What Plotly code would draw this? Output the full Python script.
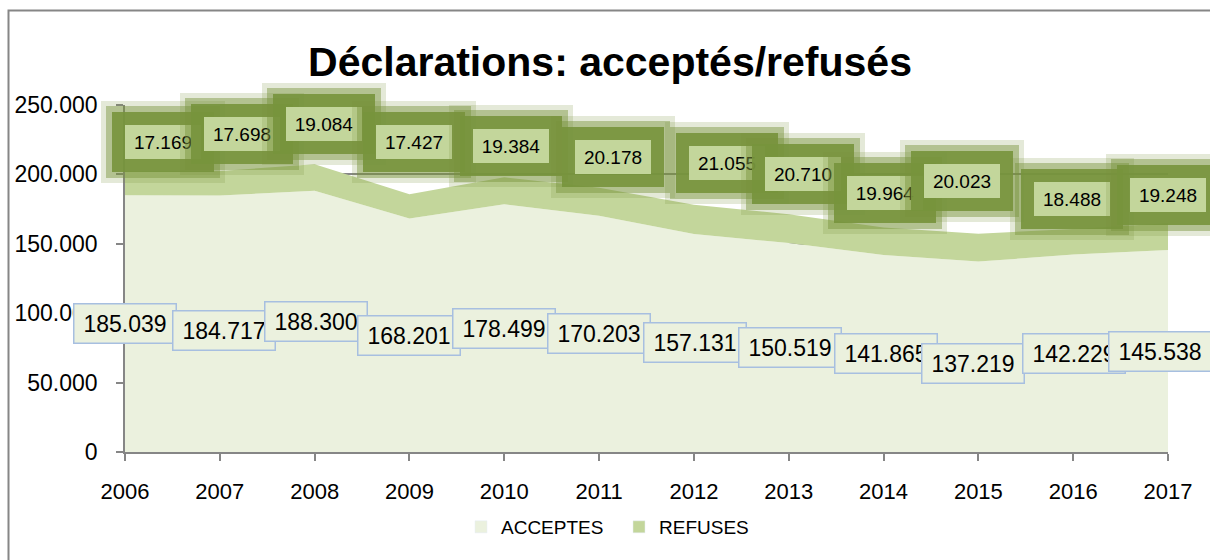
import plotly.graph_objects as go

# ---------------- data ----------------
years = [2006, 2007, 2008, 2009, 2010, 2011, 2012, 2013, 2014, 2015, 2016, 2017]
acceptes = [185039, 184717, 188300, 168201, 178499, 170203, 157131, 150519, 141865, 137219, 142229, 145538]
refuses = [17169, 17698, 19084, 17427, 19384, 20178, 21055, 20710, 19964, 20023, 18488, 19248]
acc_labels = ["185.039", "184.717", "188.300", "168.201", "178.499", "170.203",
              "157.131", "150.519", "141.865", "137.219", "142.229", "145.538"]
ref_labels = ["17.169", "17.698", "19.084", "17.427", "19.384", "20.178",
              "21.055", "20.710", "19.964", "20.023", "18.488", "19.248"]
y_ticks = [0, 50000, 100000, 150000, 200000, 250000]
title_text = "Déclarations: acceptés/refusés"

# ---------------- style / layout offsets (pixels) ----------------
C_ACC = "#EBF1DE"
C_REF = "#C3D69B"
C_GLOW = "119,147,60"
C_AXIS = "#868686"
FONT = "Liberation Sans"
# label placement offsets as dragged in the original chart (pixels)
acc_dx = [0, 4, 1, 0, 0, 0, 1, 1, 2, -5, 1, -8]
acc_dy = [0, -7, 0, 0, 0, 0, 0, 0, 0, -7, 0, 0]
ref_dx = [38, 22, 9, 5, 7, 14, 33, 14, 1, -16, -1, 0]
ref_dy = [29, 37, 40, 52, 31, 31, 42, 40, 34, 53, 30, 28]
glow_layers = [(24, 0.2), (19, 0.45), (13, 0.9)]

fig = go.Figure()
fig.add_trace(go.Scatter(x=years, y=acceptes, stackgroup="s", mode="none",
                         fillcolor=C_ACC, name="ACCEPTES", showlegend=False,
                         hoverinfo="skip"))
fig.add_trace(go.Scatter(x=years, y=refuses, stackgroup="s", mode="none",
                         fillcolor=C_REF, name="REFUSES", showlegend=False,
                         hoverinfo="skip"))
# legend proxies
fig.add_trace(go.Bar(x=[None], y=[None], marker_color=C_ACC, name="ACCEPTES"))
fig.add_trace(go.Bar(x=[None], y=[None], marker_color=C_REF, name="REFUSES"))

ann = []
for i, yr in enumerate(years):
    ann.append(dict(x=yr, y=acceptes[i] / 2, xref="x", yref="y", text=acc_labels[i],
                    showarrow=False, xshift=acc_dx[i], yshift=acc_dy[i],
                    width=101, height=38, bgcolor=C_ACC, bordercolor="#A7BFE0",
                    borderwidth=1.5, borderpad=0,
                    font=dict(family=FONT, size=23, color="#000000")))
for i, yr in enumerate(years):
    top = acceptes[i] + refuses[i]
    common = dict(x=yr, y=top, xref="x", yref="y", text=ref_labels[i], showarrow=False,
                  xshift=ref_dx[i], yshift=ref_dy[i], borderpad=0, width=76, height=34)
    for bw, al in glow_layers:
        ann.append(dict(common, bgcolor="rgba(0,0,0,0)",
                        bordercolor=f"rgba({C_GLOW},{al})", borderwidth=bw,
                        font=dict(family=FONT, size=19, color="rgba(0,0,0,0)")))
    ann.append(dict(common, bgcolor=C_REF, borderwidth=0,
                    font=dict(family=FONT, size=19, color="#000000")))

fig.update_layout(
    width=1210, height=560,
    margin=dict(l=125, r=42, t=105, b=108),
    paper_bgcolor="white", plot_bgcolor="white",
    separators=",.",
    title=dict(text="<b>" + title_text + "</b>", x=610 / 1210, xanchor="center",
               xref="container", y=1 - 62 / 560, yanchor="middle", yref="container",
               font=dict(family=FONT, size=41, color="#000000")),
    xaxis=dict(type="linear", range=[years[0], years[-1]], tickvals=years,
               ticks="outside", ticklen=7, tickcolor=C_AXIS, tickwidth=1.5,
               showline=True, linecolor=C_AXIS, linewidth=1.5, showgrid=False,
               zeroline=False, ticklabelstandoff=12,
               tickfont=dict(family=FONT, size=22, color="#000000")),
    yaxis=dict(range=[0, 250000], tickvals=y_ticks, tickformat=",d",
               ticks="outside", ticklen=7, tickcolor=C_AXIS, tickwidth=1.5,
               showline=True, linecolor=C_AXIS, linewidth=1.5,
               showgrid=True, gridcolor=C_AXIS, gridwidth=1.5, zeroline=False,
               ticklabelstandoff=14,
               tickfont=dict(family=FONT, size=23, color="#000000")),
    legend=dict(orientation="h", x=(461 - 125) / 1043, xanchor="left", y=-0.216,
                yanchor="middle", traceorder="normal", entrywidth=113,
                font=dict(family=FONT, size=19, color="#000000"),
                itemwidth=30, bgcolor="rgba(0,0,0,0)"),
    annotations=ann,
    shapes=[dict(type="rect", xref="paper", yref="paper",
                 x0=(8.5 - 125) / 1043, x1=(1216 - 125) / 1043,
                 y0=(452 - 566) / 347, y1=(452 - 10.5) / 347,
                 line=dict(color=C_AXIS, width=2), fillcolor="rgba(0,0,0,0)",
                 layer="above")],
)

fig.write_html("out.html", config={"displayModeBar": False},
               post_script="document.body.style.margin='0';")
